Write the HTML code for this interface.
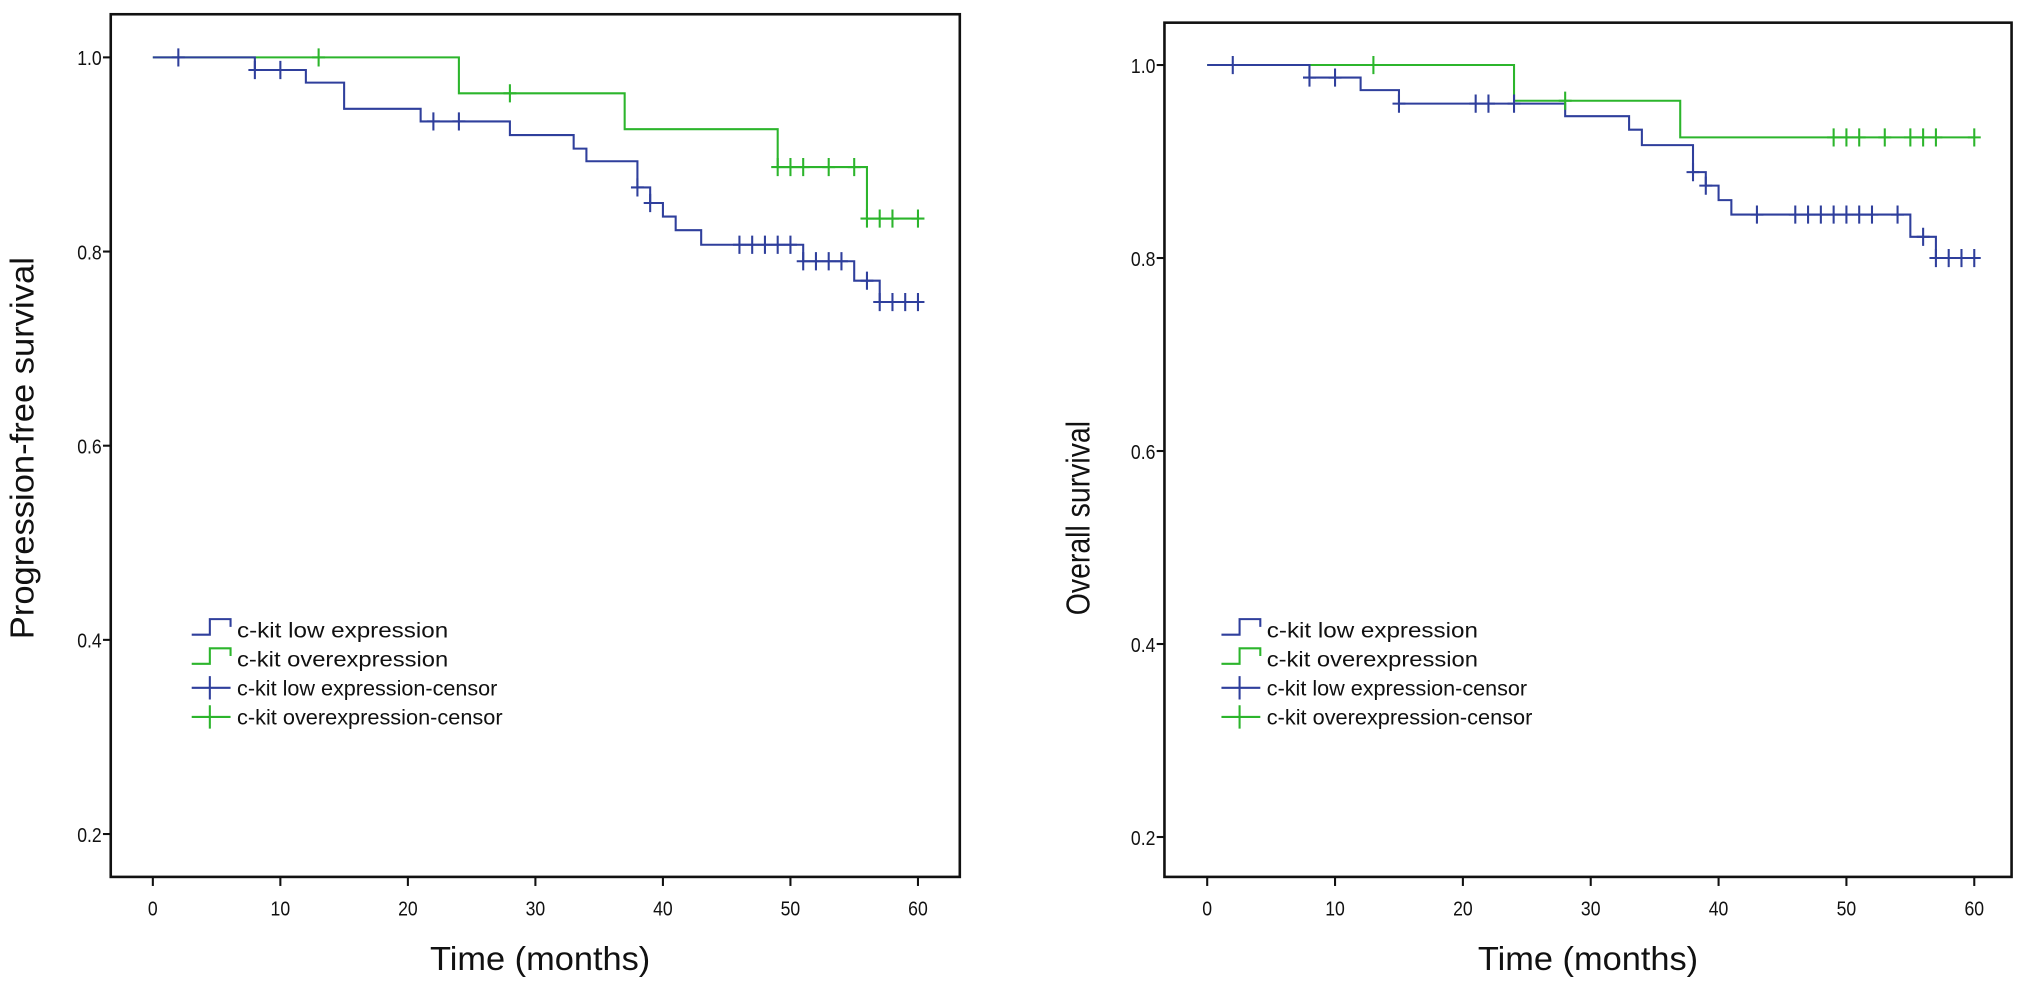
<!DOCTYPE html>
<html><head><meta charset="utf-8"><style>
html,body{margin:0;padding:0;background:#fff;}
svg{display:block;}
text{font-family:"Liberation Sans",sans-serif;fill:#111;}
</style></head><body>
<svg id="fig" width="2031" height="987" viewBox="0 0 1568 762" preserveAspectRatio="none" xmlns="http://www.w3.org/2000/svg"></svg>
<script>
// ---- Data ----
const xTicks = [0,10,20,30,40,50,60];
const yTicks = [0.2,0.4,0.6,0.8,1.0];
const yTickLabels = ["0.2","0.4","0.6","0.8","1.0"];
// PFS
const pfsLowTimes = [0,8,12,15,21,28,33,34,38,39,40,41,43,51,55,57,60];
const pfsLowSurv  = [1.0,0.987,0.974,0.947,0.934,0.92,0.906,0.893,0.866,0.85,0.836,0.822,0.807,0.79,0.77,0.748,0.748];
const pfsLowCensT = [2,8,10,22,24,38,39,46,47,48,49,50,51,52,53,54,56,57,58,59,60];
const pfsLowCensS = [1.0,0.987,0.987,0.934,0.934,0.866,0.85,0.807,0.807,0.807,0.807,0.807,0.79,0.79,0.79,0.79,0.77,0.748,0.748,0.748,0.748];
const pfsHighTimes = [0,24,37,49,56,60];
const pfsHighSurv  = [1.0,0.963,0.926,0.887,0.834,0.834];
const pfsHighCensT = [13,28,49,50,51,53,55,56,57,58,60];
const pfsHighCensS = [1.0,0.963,0.887,0.887,0.887,0.887,0.887,0.834,0.834,0.834,0.834];
// OS
const osLowTimes = [0,8,12,15,28,33,34,38,39,40,41,55,57,60];
const osLowSurv  = [1.0,0.987,0.974,0.96,0.947,0.933,0.917,0.889,0.875,0.86,0.845,0.822,0.8,0.8];
const osLowCensT = [2,8,10,15,21,22,24,38,39,43,46,47,48,49,50,51,52,54,56,57,58,59,60];
const osLowCensS = [1.0,0.987,0.987,0.96,0.96,0.96,0.96,0.889,0.875,0.845,0.845,0.845,0.845,0.845,0.845,0.845,0.845,0.845,0.822,0.8,0.8,0.8,0.8];
const osHighTimes = [0,24,37,60];
const osHighSurv  = [1.0,0.963,0.925,0.925];
const osHighCensT = [13,28,49,50,51,53,55,56,57,60];
const osHighCensS = [1.0,0.963,0.925,0.925,0.925,0.925,0.925,0.925,0.925,0.925];
const legendLabels = ["c-kit low expression","c-kit overexpression","c-kit low expression-censor","c-kit overexpression-censor"];

const BLUE="#2f3f9c", GREEN="#2cb52c";
const NS="http://www.w3.org/2000/svg";
const svg=document.getElementById('fig');
function mk(tag,attrs,parent){const e=document.createElementNS(NS,tag);for(const k in attrs)e.setAttribute(k,attrs[k]);(parent||svg).appendChild(e);return e;}

function panel(cfg){
  const g=mk('g',{});
  
  
  const sx=t=>cfg.x0+t*cfg.px10/10;
  const sy=v=>cfg.y1+(1-v)*cfg.py1;
  const fr=mk('rect',{x:cfg.L,y:cfg.T,width:cfg.R-cfg.L,height:cfg.B-cfg.T,fill:'none',stroke:'#111','stroke-width':2},g);
  
  
  xTicks.forEach(t=>{
    mk('line',{x1:sx(t),x2:sx(t),y1:cfg.B,y2:cfg.B+7,stroke:'#111','stroke-width':1.6},g);
    const tx=mk('text',{x:sx(t),y:cfg.B+30,'font-size':16,'text-anchor':'middle',transform:`translate(${sx(t)},0) scale(0.85,1) translate(${-sx(t)},0)`},g);
    tx.textContent=t;
    
    
  });
  yTicks.forEach((v,i)=>{
    mk('line',{x1:cfg.L-6,x2:cfg.L,y1:sy(v),y2:sy(v),stroke:'#111','stroke-width':1.6},g);
    const tx=mk('text',{x:cfg.L-7,y:sy(v)+6,'font-size':16,'text-anchor':'end',transform:`translate(${cfg.L-7},0) scale(0.85,1) translate(${-(cfg.L-7)},0)`},g);
    tx.textContent=yTickLabels[i];
    
    
  });
  const xt=mk('text',{x:cfg.xtx,y:cfg.B+72,'font-size':26,'text-anchor':'middle',textLength:170,lengthAdjust:'spacingAndGlyphs'},g);
  xt.textContent='Time (months)';
  
  
  const yt=mk('text',{x:0,y:0,'font-size':26,'text-anchor':'middle',textLength:cfg.ytl,lengthAdjust:'spacingAndGlyphs',transform:`translate(${cfg.ytx},${cfg.yty}) rotate(-90)`},g);
  yt.textContent=cfg.ytitle;
  
  
  function curve(T,S,col,nm){
    let d=`M${sx(T[0])},${sy(S[0])}`;
    for(let i=1;i<T.length;i++){d+=` H${sx(T[i])} V${sy(S[i])}`;}
    const p=mk('path',{d:d,fill:'none',stroke:col,'stroke-width':1.6},g);
    
    
  }
  function cens(T,S,col,nm){
    T.forEach((t,i)=>{
      const p=mk('path',{d:`M${sx(t)},${sy(S[i])-7} v14 M${sx(t)-5},${sy(S[i])} h10`,stroke:col,'stroke-width':1.6,fill:'none'},g);
      
      
    });
  }
  curve(cfg.hT,cfg.hS,GREEN,'overexpression-curve');
  curve(cfg.lT,cfg.lS,BLUE,'low-expression-curve');
  cens(cfg.hCT,cfg.hCS,GREEN,'overexpression-censor-mark');
  cens(cfg.lCT,cfg.lCS,BLUE,'low-expression-censor-mark');
  const lg=mk('g',{},g);
  
  
  const cols=[BLUE,GREEN,BLUE,GREEN];
  legendLabels.forEach((lab,i)=>{
    const y=cfg.legY+i*22.5, x=cfg.legX;
    if(i<2){
      mk('path',{d:`M${x},${y+4} h14 v-12 h16 v6`,fill:'none',stroke:cols[i],'stroke-width':1.6},lg);
    }else{
      mk('path',{d:`M${x},${y} h30 M${x+14},${y-9} v18`,fill:'none',stroke:cols[i],'stroke-width':1.6},lg);
    }
    const tx=mk('text',{x:x+35,y:y+6,'font-size':16.5,textLength:[163,163,201,205][i],lengthAdjust:'spacingAndGlyphs'},lg);
    tx.textContent=lab;
    
    
  });
}
panel({name:'pfs-panel',L:85.5,R:741,T:11,B:677,x0:118,px10:98.45,y1:44.3,py1:749.5,
  ytitle:'Progression-free  survival',ytx:26,yty:346,ytl:295,xtx:417,legX:148,legY:486,
  lT:pfsLowTimes,lS:pfsLowSurv,lCT:pfsLowCensT,lCS:pfsLowCensS,
  hT:pfsHighTimes,hS:pfsHighSurv,hCT:pfsHighCensT,hCS:pfsHighCensS});
panel({name:'os-panel',L:899,R:1553,T:17.5,B:677,x0:932,px10:98.7,y1:50.2,py1:745,
  ytitle:'Overall survival',ytx:841,yty:400,ytl:150,xtx:1226,legX:943,legY:486,
  lT:osLowTimes,lS:osLowSurv,lCT:osLowCensT,lCS:osLowCensS,
  hT:osHighTimes,hS:osHighSurv,hCT:osHighCensT,hCS:osHighCensS});
</script>
</body></html>
